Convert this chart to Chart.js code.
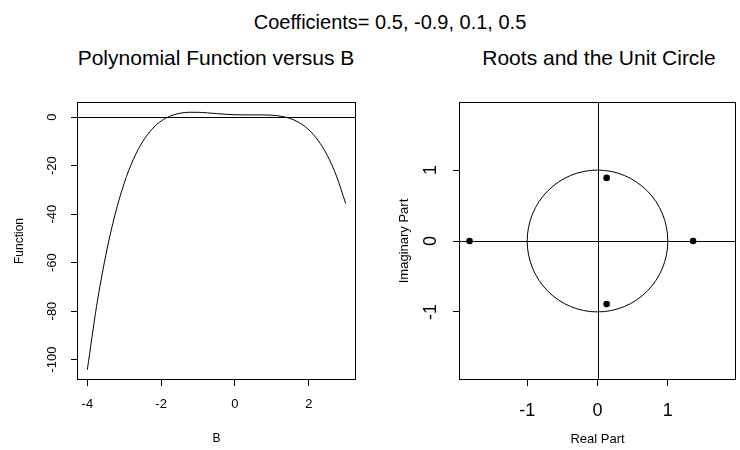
<!DOCTYPE html>
<html>
<head>
<meta charset="utf-8">
<script src="https://cdn.jsdelivr.net/npm/chart.js@4.4.1/dist/chart.umd.min.js"></script>
<style>
  html, body { margin: 0; padding: 0; background: #fff; }
  #wrap { position: relative; width: 740px; height: 450px; overflow: hidden;
          font-family: "Liberation Sans", Arial, sans-serif; color: #000; }
  .ttl { position: absolute; white-space: nowrap; transform: translate(-50%, -50%); }
  canvas { position: absolute; top: 0; }
</style>
</head>
<body>
<div id="wrap">
  <div class="ttl" style="left:390px; top:22px; font-size:20px">Coefficients= 0.5, -0.9, 0.1, 0.5</div>
  <div class="ttl" style="left:216px; top:58px; font-size:21px">Polynomial Function versus B</div>
  <div class="ttl" style="left:599px; top:58px; font-size:21px">Roots and the Unit Circle</div>
  <canvas id="polyChart" width="370" height="470" style="left:0"></canvas>
  <canvas id="rootChart" width="370" height="470" style="left:370px"></canvas>
</div>
<script>
// values (function of B)
const polyB = [-4, -3.75, -3.5, -3.25, -3, -2.75, -2.5, -2.25, -2, -1.75, -1.5, -1.25, -1,
  -0.75, -0.5, -0.25, 0, 0.25, 0.5, 0.75, 1, 1.25, 1.5, 1.75, 2, 2.25, 2.5, 2.75, 3];
const polyF = [-104.2, -78.07, -56.97, -40.22, -27.2, -17.33, -10.09, -4.99, -1.6, 0.48, 1.58, 2.01, 2.0,
  1.77, 1.46, 1.18, 1.0, 0.93, 0.93, 0.93, 0.8, 0.37, -0.59, -2.34, -5.2, -9.52, -15.72, -24.24, -35.6];
const polyTicksX = [-4, -2, 0, 2];
const polyTicksY = [-100, -80, -60, -40, -20, 0];

// roots (right panel)
const rootRe = [-1.82, 0.13, 0.13, 1.36];
const rootIm = [0, 0.89, -0.89, 0];
const rootTicks = [-1, 0, 1];
const unitRadius = 1;

Chart.defaults.font.family = '"Liberation Sans", Arial, sans-serif';
Chart.defaults.color = '#000';

// R style: box round the plot area, abline() lines, optional circle
const rFrame = {
  id: 'rFrame',
  beforeDatasetsDraw(chart, args, opts) {
    const { ctx, chartArea: a, scales: { x, y } } = chart;
    ctx.save();
    ctx.beginPath();
    ctx.rect(a.left, a.top, a.right - a.left, a.bottom - a.top);
    ctx.clip();
    ctx.strokeStyle = '#000';
    ctx.lineWidth = 1;
    ctx.beginPath();
    (opts.hLines || []).forEach(v => {
      const py = Math.round(y.getPixelForValue(v)) + 0.5;
      ctx.moveTo(a.left, py); ctx.lineTo(a.right, py);
    });
    (opts.vLines || []).forEach(v => {
      const px = Math.round(x.getPixelForValue(v)) + 0.5;
      ctx.moveTo(px, a.top); ctx.lineTo(px, a.bottom);
    });
    ctx.stroke();
    if (opts.circle) {
      const cx = x.getPixelForValue(0), cy = y.getPixelForValue(0);
      const rx = x.getPixelForValue(opts.circle) - cx;
      const ry = cy - y.getPixelForValue(opts.circle);
      ctx.beginPath();
      ctx.ellipse(cx, cy, rx, ry, 0, 0, Math.PI * 2);
      ctx.stroke();
    }
    ctx.restore();
  },
  afterDraw(chart) {
    const { ctx, chartArea: a } = chart;
    ctx.save();
    ctx.strokeStyle = '#000';
    ctx.lineWidth = 1;
    ctx.strokeRect(Math.round(a.left) + 0.5, Math.round(a.top) + 0.5,
      Math.round(a.right - a.left) - 1, Math.round(a.bottom - a.top) - 1);
    ctx.restore();
  }
};

function rAxis(opts) {
  const horiz = opts.horiz;
  return {
    type: 'linear',
    min: opts.min,
    max: opts.max,
    afterBuildTicks: s => { s.ticks = opts.ticks.map(v => ({ value: v })); },
    afterFit: s => { if (horiz) s.height = opts.size; else s.width = opts.size; },
    border: { display: false },
    grid: { display: true, drawOnChartArea: false, drawTicks: true, tickLength: 6,
            tickColor: '#000', tickWidth: 1, color: '#000' },
    ticks: Object.assign({
      color: '#000', autoSkip: false, font: { size: opts.tickSize }, padding: opts.tickPad,
      callback: v => String(v)
    }, horiz ? { maxRotation: 0, minRotation: 0 } : { minRotation: 90, maxRotation: 90, crossAlign: 'center' }),
    title: { display: true, text: opts.title, color: '#000', font: { size: opts.titleSize },
             padding: horiz ? { top: 0, bottom: opts.titlePad } : { top: opts.titlePad, bottom: 0 } }
  };
}

new Chart(document.getElementById('polyChart'), {
  type: 'scatter',
  data: {
    datasets: [{
      data: polyB.map((b, i) => ({ x: b, y: polyF[i] })),
      showLine: true,
      pointRadius: 0,
      borderColor: '#000',
      borderWidth: 1,
      cubicInterpolationMode: 'monotone'
    }]
  },
  options: {
    responsive: false,
    animation: false,
    layout: { padding: { left: 0, right: 14, top: 102, bottom: 0 } },
    plugins: { legend: { display: false }, tooltip: { enabled: false },
               rFrame: { hLines: [0] } },
    scales: {
      x: rAxis({ horiz: true, min: -4.28, max: 3.28, ticks: polyTicksX, size: 90,
                 tickSize: 13, tickPad: 11, title: 'B', titleSize: 12, titlePad: 24 }),
      y: rAxis({ horiz: false, min: -108.45, max: 6.25, ticks: polyTicksY, size: 77,
                 tickSize: 13, tickPad: 6, title: 'Function', titleSize: 12, titlePad: 12 })
    }
  },
  plugins: [rFrame]
});

new Chart(document.getElementById('rootChart'), {
  type: 'scatter',
  data: {
    datasets: [{
      data: rootRe.map((re, i) => ({ x: re, y: rootIm[i] })),
      pointRadius: 3.3,
      pointBackgroundColor: '#000',
      pointBorderWidth: 0,
      showLine: false
    }]
  },
  options: {
    responsive: false,
    animation: false,
    layout: { padding: { left: 0, right: 1, top: 102, bottom: 0 } },
    plugins: { legend: { display: false }, tooltip: { enabled: false },
               rFrame: { hLines: [0], vLines: [0], circle: unitRadius } },
    scales: {
      x: rAxis({ horiz: true, min: -1.97, max: 1.97, ticks: rootTicks, size: 90,
                 tickSize: 18, tickPad: 14, title: 'Real Part', titleSize: 13, titlePad: 23 }),
      y: rAxis({ horiz: false, min: -1.96, max: 1.96, ticks: rootTicks, size: 89,
                 tickSize: 18, tickPad: 14, title: 'Imaginary Part', titleSize: 13, titlePad: 27 })
    }
  },
  plugins: [rFrame]
});
</script>
</body>
</html>
